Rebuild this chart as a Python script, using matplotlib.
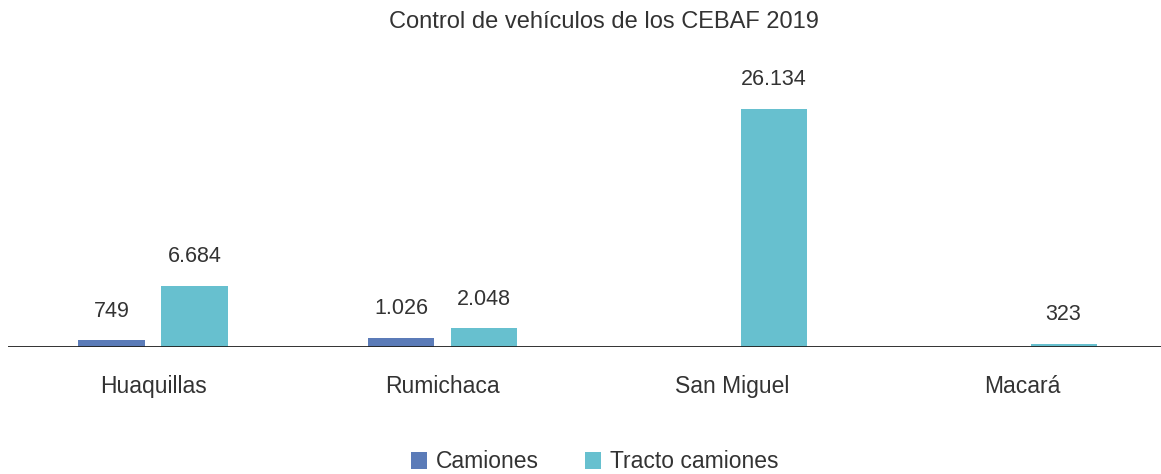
import numpy as np
import matplotlib.pyplot as plt

# Datos de control de vehículos por CEBAF
pasos = ['Huaquillas', 'Rumichaca', 'San Miguel', 'Macará']
camiones = [749, 1026, 0, 0]
tracto = [6684, 2048, 26134, 323]
etq_camiones = ['749', '1.026', '', '']
etq_tracto = ['6.684', '2.048', '26.134', '323']

plt.rcParams['font.family'] = ['Liberation Sans', 'DejaVu Sans']
color_txt = '#333333'
c_cam = '#5b7bb8'
c_tra = '#67c0cf'

fig = plt.figure(figsize=(11.61, 4.74), dpi=100)
ax = fig.add_axes([0.0069, 0.268, 0.9931, 0.6266])

x = np.arange(len(pasos))
ancho = 0.228
desp = 0.1433
b1 = ax.bar(x - desp, camiones, ancho, color=c_cam, label='Camiones')
b2 = ax.bar(x + desp, tracto, ancho, color=c_tra, label='Tracto camiones')

for barras, etqs in ((b1, etq_camiones), (b2, etq_tracto)):
    for b, t in zip(barras, etqs):
        if t:
            ax.annotate(t, (b.get_x() + b.get_width() / 2, b.get_height()),
                        xytext=(0, 17), textcoords='offset points',
                        ha='center', va='baseline', fontsize=15.5, color=color_txt)

ax.set_xlim(-0.5005, 3.4795)
ax.set_ylim(0, 32613)
ax.axhline(0, color='#222222', lw=1.3)
ax.set_xticks(x)
ax.set_xticklabels(pasos, fontsize=16.5, color=color_txt)
ax.tick_params(axis='x', length=0, pad=20)
ax.set_yticks([])
for s in ax.spines.values():
    s.set_visible(False)

fig.text(604 / 1161, 1 - 22 / 474, 'Control de vehículos de los CEBAF 2019',
         ha='center', va='center', fontsize=17, color=color_txt)

fig.legend(handles=[b1, b2], loc='center', bbox_to_anchor=(595 / 1161, 12 / 474),
           ncol=2, frameon=False, fontsize=16.5, handlelength=0.7, handleheight=0.7,
           handletextpad=0.4, columnspacing=2.0, labelcolor=color_txt)

fig.savefig('out.png', dpi=100)
